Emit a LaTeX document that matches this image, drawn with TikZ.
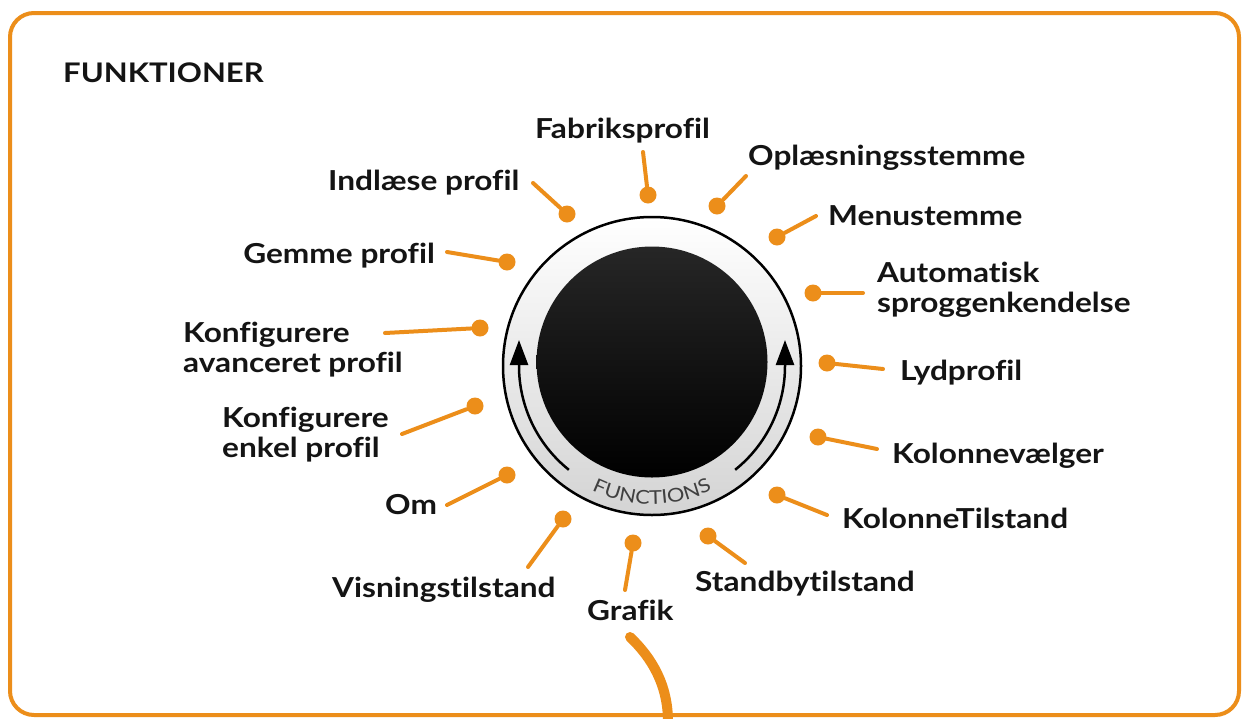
\documentclass[tikz,border=0pt]{standalone}
\usepackage{fontspec}
\setmainfont{Lato}[FakeStretch=1.15, Ligatures=NoCommon]
\usetikzlibrary{arrows.meta,decorations.text}
\definecolor{org}{RGB}{236,142,26}
\definecolor{ink}{RGB}{20,20,20}
\begin{document}
\begin{tikzpicture}[x=1pt,y=-1pt,
  lab/.style={font=\fontsize{27.5}{30}\selectfont\bfseries, inner sep=0pt, text=ink},
  ttl/.style={font=\fontsize{27}{30}\selectfont\bfseries, inner sep=0pt, text=ink},
  dot/.style={circle, fill=org, minimum size=17pt, inner sep=0pt},
  spoke/.style={draw=org, line width=4pt, line cap=round},
  frame/.style={draw=org, line width=4pt, rounded corners=24pt},
  turn/.style={line width=2.5pt, -{Triangle[width=18pt,length=25pt]}}]
\useasboundingbox (0,0) rectangle (1245,718);
\fill[white] (0,0) rectangle (1245,718);
\draw[frame] (10,13) rectangle (1239,715);

\node[ttl, anchor=base west] (title) at (63,82) {FUNKTIONER};

% knob
\node[circle, draw=black, line width=2.5pt, minimum size=298pt, inner sep=0pt,
      top color=white, middle color=white, bottom color=black!17] (ring) at (652,366) {};
\node[circle, minimum size=231pt, inner sep=0pt, top color=black!85, bottom color=black] (knob) at (652,362) {};
\coordinate (kc) at (652,366);
\draw[turn] ([shift={(652,366)}]128.7:133) arc[start angle=128.7, end angle=180, radius=133] -- ++(0,-26);
\draw[turn] ([shift={(652,366)}]51.3:133) arc[start angle=51.3, end angle=0, radius=133] -- ++(0,-26);
\path[decorate, decoration={text along path, text align=center,
   text={|\fontsize{19}{19}\selectfont\color{black!75}|FUNCTIONS}}]
   ([shift={(652,366)}]120:138) arc[start angle=120, end angle=60, radius=138];

% spokes
\foreach \i/\dx/\dy/\ex/\ey in {
  1/648/195/643/152, 2/717/206/746/176, 3/777/237/816/216, 4/813/293/863/293,
  5/827/363/883/369, 6/818/437/877/449, 7/777/495/827/515, 8/708/536/745/563,
  9/633/543/625/590, 10/563/519/528/567, 11/507/475/447/505, 12/475/406/402/434,
  13/480/328/385/333, 14/507/262/447/252, 15/567/214/533/183} {
  \node[dot] (d\i) at (\dx,\dy) {};
  \coordinate (e\i) at (\ex,\ey);
  \draw[spoke] (d\i) -- (e\i);
}

% labels
\node[lab, anchor=base west] (l1) at (535,138) {Fabriksprofil};
\node[lab, anchor=base west] (l2) at (748,165) {Oplæsningsstemme};
\node[lab, anchor=base west] (l3) at (828,225) {Menustemme};
\node[lab, anchor=base west] (l4) at (877,282) {\begin{tabular}[t]{@{}l@{}}Automatisk\\ sproggenkendelse\end{tabular}};
\node[lab, anchor=base west] (l5) at (900,380) {Lydprofil};
\node[lab, anchor=base west] (l6) at (892,463) {Kolonnevælger};
\node[lab, anchor=base west] (l7) at (842,528) {KolonneTilstand};
\node[lab, anchor=base west] (l8) at (695,591) {Standbytilstand};
\node[lab, anchor=base west] (l9) at (587,620) {Grafik};
\node[lab, anchor=base west] (l10) at (332,597) {Visningstilstand};
\node[lab, anchor=base west] (l11) at (385,514) {Om};
\node[lab, anchor=base west] (l12) at (222,427) {\begin{tabular}[t]{@{}l@{}}Konfigurere\\ enkel profil\end{tabular}};
\node[lab, anchor=base west] (l13) at (183,342) {\begin{tabular}[t]{@{}l@{}}Konfigurere\\ avanceret profil\end{tabular}};
\node[lab, anchor=base east] (l14) at (435,263) {Gemme profil};
\node[lab, anchor=base west] (l15) at (328,190) {Indlæse profil};

% cable
\coordinate (c1) at (630,637);
\coordinate (c2) at (668,722);
\draw[org, line width=10pt, line cap=round] (c1) .. controls (652,658) and (668,685) .. (c2);
\end{tikzpicture}
\end{document}
